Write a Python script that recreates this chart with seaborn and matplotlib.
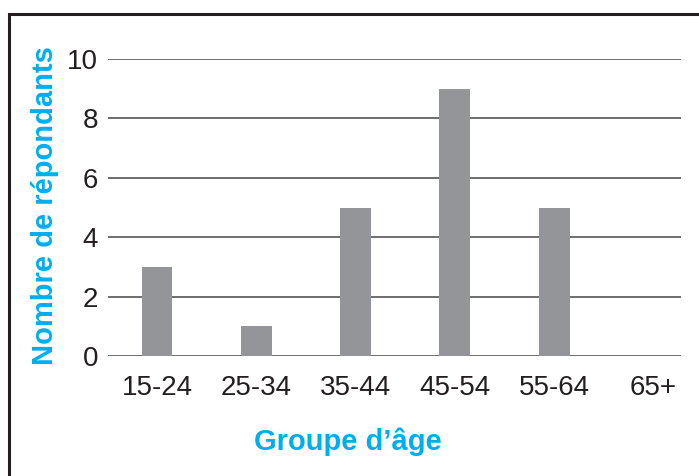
import matplotlib
matplotlib.use("Agg")
import matplotlib.pyplot as plt
import seaborn as sns
import pandas as pd
from matplotlib.patches import Rectangle

categories = ["15-24", "25-34", "35-44", "45-54", "55-64", "65+"]
values = [3, 1, 5, 9, 5, 0]
yticks = [0, 2, 4, 6, 8, 10]

sns.set_theme(style="white")
plt.rcParams['font.family'] = ['Liberation Sans', 'DejaVu Sans']

df = pd.DataFrame({"groupe": categories, "n": values})

fig = plt.figure(figsize=(6.99, 4.76), dpi=100)
ax = fig.add_axes([0.1545, 0.252, 0.8197, 0.624])

sns.barplot(data=df, x="groupe", y="n", order=categories, color="#939598",
            saturation=1, width=0.31, linewidth=0, edgecolor="none", ax=ax, zorder=3)

ax.set_xlim(-0.493, 5.277)
ax.set_ylim(0, 10)
ax.set_yticks(yticks)
ax.set_yticklabels([str(t) for t in yticks])
ax.yaxis.grid(True, color="#555555", linewidth=1.2, zorder=1)
ax.xaxis.grid(False)
ax.set_axisbelow(True)
for s in ax.spines.values():
    s.set_visible(False)
ax.tick_params(axis="both", length=0, labelsize=20, colors="#231f20")
ax.tick_params(axis="y", pad=7)
ax.tick_params(axis="x", pad=14)
ax.set_xlabel("")
ax.set_ylabel("")

blue = "#00aeef"
fig.text(0.0644, 0.569, "Nombre de répondants", rotation=90, ha="center", va="center",
         fontsize=21, fontweight="bold", color=blue)
fig.text(0.498, 0.0714, "Groupe d\u2019âge", ha="center", va="center",
         fontsize=21, fontweight="bold", color=blue)

frame = Rectangle((8.5 / 699, -0.1), 1.2, 1.1 - 14 / 476, transform=fig.transFigure,
                  fill=False, edgecolor="#231f20", linewidth=2.2, clip_on=False)
fig.patches.append(frame)

fig.savefig("out.png", dpi=100, facecolor="white")
